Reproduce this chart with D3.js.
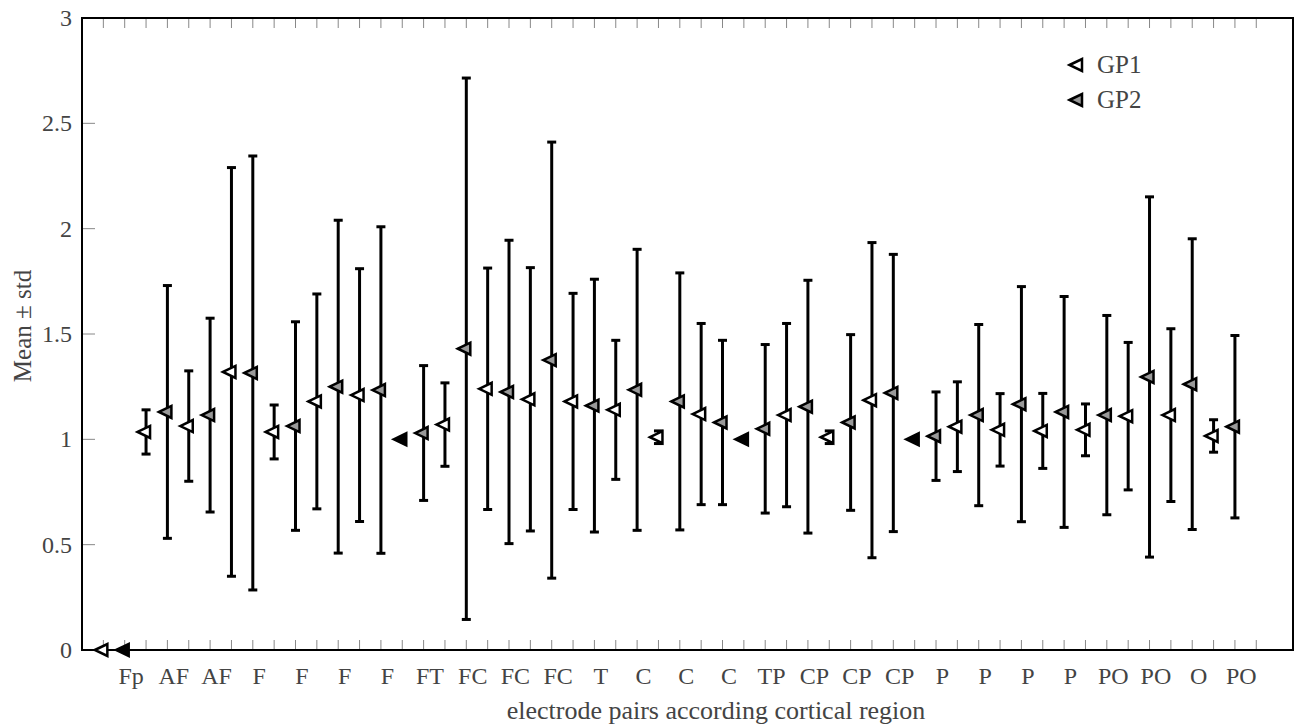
<!DOCTYPE html>
<html>
<head>
<meta charset="utf-8">
<script src="https://cdn.jsdelivr.net/npm/d3@7"></script>
<style>
  body { margin: 0; background: #fff; }
  text { font-family: "Liberation Serif", "DejaVu Serif", serif; fill: #444; }
</style>
</head>
<body>
<svg class="chart"></svg>
<script>
var width = 1296;
var height = 727;

// cortical region of each electrode pair
var regions = ["Fp", "AF", "AF", "F", "F", "F", "F", "FT", "FC", "FC", "FC", "T", "C", "C", "C",
    "TP", "CP", "CP", "CP", "P", "P", "P", "P", "PO", "PO", "O", "PO"];

// group 1, mean and std per pair
var gp1Mean = [0, 1.035, 1.063, 1.32, 1.035, 1.18, 1.21, 1.0, 1.07, 1.24, 1.19, 1.18, 1.14, 1.01,
    1.12, 1.0, 1.115, 1.01, 1.186, 1.0, 1.06, 1.045, 1.04, 1.045, 1.11, 1.115, 1.016];
var gp1Std = [0, 0.105, 0.262, 0.97, 0.128, 0.51, 0.6, 0, 0.198, 0.573, 0.625, 0.513, 0.33, 0.03,
    0.43, 0, 0.435, 0.03, 0.748, 0, 0.213, 0.172, 0.178, 0.123, 0.35, 0.41, 0.077];

// group 2, mean and std per pair
var gp2Mean = [0, 1.13, 1.115, 1.315, 1.063, 1.25, 1.234, 1.03, 1.43, 1.225, 1.376, 1.16, 1.235, 1.18,
    1.08, 1.05, 1.155, 1.08, 1.22, 1.015, 1.115, 1.167, 1.13, 1.115, 1.296, 1.262, 1.06];
var gp2Std = [0, 0.6, 0.46, 1.03, 0.495, 0.79, 0.775, 0.32, 1.285, 0.72, 1.035, 0.6, 0.667, 0.61,
    0.39, 0.4, 0.6, 0.417, 0.658, 0.21, 0.43, 0.558, 0.548, 0.473, 0.855, 0.69, 0.433];

var yTicks = [0, 0.5, 1, 1.5, 2, 2.5, 3];

var plot = { left: 82, right: 1293, top: 18, bottom: 650 };

var x = d3.scaleLinear()
    .domain([-1, 55.72])
    .range([plot.left, plot.right]);

var y = d3.scaleLinear()
    .domain([0, 3])
    .range([plot.bottom, plot.top]);

var chart = d3.select(".chart")
    .attr("width", width)
    .attr("height", height);

// flatten into one list, GP1 on even positions, GP2 on odd
var points = [];
regions.forEach(function(r, k) {
    points.push({ pos: 2 * k, group: "GP1", mean: gp1Mean[k], sd: gp1Std[k] });
    points.push({ pos: 2 * k + 1, group: "GP2", mean: gp2Mean[k], sd: gp2Std[k] });
});

// small inner ticks, top and bottom
var xTickPos = d3.range(0, 55);
chart.append("g").selectAll("line.bt")
    .data(xTickPos)
    .enter().append("line")
    .attr("x1", function(d) { return x(d); })
    .attr("x2", function(d) { return x(d); })
    .attr("y1", plot.bottom)
    .attr("y2", plot.bottom - 10)
    .attr("stroke", "#888")
    .attr("stroke-width", 1);
chart.append("g").selectAll("line.tt")
    .data(xTickPos)
    .enter().append("line")
    .attr("x1", function(d) { return x(d); })
    .attr("x2", function(d) { return x(d); })
    .attr("y1", plot.top)
    .attr("y2", plot.top + 10)
    .attr("stroke", "#888")
    .attr("stroke-width", 1);

// y ticks on the left
chart.append("g").selectAll("line")
    .data(yTicks)
    .enter().append("line")
    .attr("x1", plot.left)
    .attr("x2", plot.left + 13)
    .attr("y1", function(d) { return y(d); })
    .attr("y2", function(d) { return y(d); })
    .attr("stroke", "#888")
    .attr("stroke-width", 1);

chart.append("g").selectAll("text")
    .data(yTicks)
    .enter().append("text")
    .attr("x", 72)
    .attr("y", function(d) { return y(d) + 8; })
    .attr("text-anchor", "end")
    .style("font-size", "24px")
    .text(function(d) { return d; });

// frame
chart.append("rect")
    .attr("x", plot.left)
    .attr("y", plot.top)
    .attr("width", plot.right - plot.left)
    .attr("height", plot.bottom - plot.top)
    .attr("fill", "none")
    .attr("stroke", "#000")
    .attr("stroke-width", 2);

// error bars
var bars = chart.append("g").selectAll("g")
    .data(points.filter(function(d) { return d.sd > 0; }))
    .enter().append("g");

bars.append("line")
    .attr("x1", function(d) { return x(d.pos); })
    .attr("x2", function(d) { return x(d.pos); })
    .attr("y1", function(d) { return y(d.mean - d.sd); })
    .attr("y2", function(d) { return y(d.mean + d.sd); })
    .attr("stroke", "#000")
    .attr("stroke-width", 3);

[-1, 1].forEach(function(s) {
    bars.append("line")
        .attr("x1", function(d) { return x(d.pos) - 4.5; })
        .attr("x2", function(d) { return x(d.pos) + 4.5; })
        .attr("y1", function(d) { return y(d.mean + s * d.sd); })
        .attr("y2", function(d) { return y(d.mean + s * d.sd); })
        .attr("stroke", "#000")
        .attr("stroke-width", 3);
});

// left pointing triangle marks
var tri = "M-8.5,0L4,-6L4,6Z";

function markFill(d) {
    if (d.sd === 0 && !(d.group === "GP1" && d.mean === 0)) return "#000";
    return d.group === "GP1" ? "#fff" : "#999";
}

chart.append("g").selectAll("path")
    .data(points)
    .enter().append("path")
    .attr("d", tri)
    .attr("transform", function(d) { return "translate(" + x(d.pos) + "," + y(d.mean) + ")"; })
    .attr("fill", markFill)
    .attr("stroke", "#000")
    .attr("stroke-width", 2.5)
    .attr("stroke-linejoin", "miter");

// region labels
chart.append("g").selectAll("text")
    .data(regions)
    .enter().append("text")
    .attr("x", function(d, k) { return x(2 * k + 1.3); })
    .attr("y", 684)
    .attr("text-anchor", "middle")
    .style("font-size", "24px")
    .text(function(d) { return d; });

// axis titles
chart.append("text")
    .attr("x", 716)
    .attr("y", 719)
    .attr("text-anchor", "middle")
    .style("font-size", "26px")
    .text("electrode pairs according cortical region");

chart.append("text")
    .attr("transform", "translate(31,326) rotate(-90)")
    .attr("text-anchor", "middle")
    .style("font-size", "25px")
    .text("Mean \u00b1 std");

// legend
var legend = [{ name: "GP1", fill: "#fff" }, { name: "GP2", fill: "#999" }];
var lg = chart.append("g").selectAll("g")
    .data(legend)
    .enter().append("g")
    .attr("transform", function(d, i) { return "translate(1078," + (65 + i * 35) + ")"; });

lg.append("path")
    .attr("d", tri)
    .attr("fill", function(d) { return d.fill; })
    .attr("stroke", "#000")
    .attr("stroke-width", 2.5);

lg.append("text")
    .attr("x", 19)
    .attr("y", 8)
    .style("font-size", "25px")
    .text(function(d) { return d.name; });
</script>
</body>
</html>
